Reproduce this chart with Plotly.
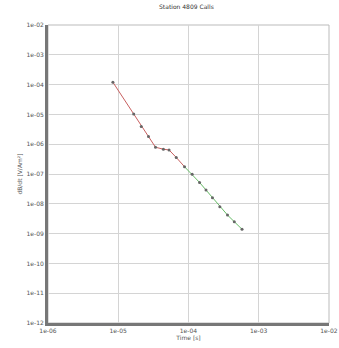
import plotly.graph_objects as go

title_text = "Station 4809 Calls"
x_label = "Time [s]"
y_label = "dB/dt [V/Am²]"

time_s = [8.4e-6, 1.66e-5, 2.13e-5, 2.7e-5, 3.4e-5, 4.4e-5, 5.3e-5, 6.7e-5,
          8.8e-5, 1.13e-4, 1.44e-4, 1.78e-4, 2.2e-4, 2.8e-4, 3.6e-4, 4.5e-4, 5.8e-4]
dbdt = [1.2e-4, 1.03e-5, 3.9e-6, 1.8e-6, 7.9e-7, 6.8e-7, 6.4e-7, 3.6e-7,
        1.75e-7, 9.8e-8, 5.2e-8, 2.9e-8, 1.6e-8, 7.9e-9, 4.2e-9, 2.5e-9, 1.4e-9]
split_index = 8

x_tickvals = [1e-6, 1e-5, 1e-4, 1e-3, 1e-2]
x_ticktext = ["1e-06", "1e-05", "1e-04", "1e-03", "1e-02"]
y_tickvals = [10.0 ** (-k) for k in range(2, 13)]
y_ticktext = ["1e-%02d" % k for k in range(2, 13)]

fig = go.Figure()
fig.add_trace(go.Scatter(x=time_s[:split_index + 1], y=dbdt[:split_index + 1], mode="lines",
                         line=dict(color="#c86060", width=1), showlegend=False))
fig.add_trace(go.Scatter(x=time_s[split_index:], y=dbdt[split_index:], mode="lines",
                         line=dict(color="#66bb66", width=1), showlegend=False))
fig.add_trace(go.Scatter(x=time_s, y=dbdt, mode="markers",
                         marker=dict(color="#666666", size=3), showlegend=False))

fig.update_layout(
    width=339, height=348,
    margin=dict(l=48, r=10, t=25, b=25),
    paper_bgcolor="white", plot_bgcolor="white",
    title=dict(text=title_text, x=0.55, xanchor="center", y=0.985, yanchor="top",
               font=dict(size=6, color="#333333", family="DejaVu Sans")),
    font=dict(family="DejaVu Sans", size=6, color="#555555"),
)
fig.update_xaxes(type="log", range=[-6, -1.998], tickvals=x_tickvals, ticktext=x_ticktext,
                 showgrid=True, gridcolor="#d4d4d4", gridwidth=1,
                 showline=True, linecolor="#777777", linewidth=3, mirror=False,
                 ticks="", tickfont=dict(size=6), automargin=False,
                 ticklabeloverflow="allow",
                 title=dict(text=x_label, font=dict(size=6), standoff=2))
fig.update_yaxes(type="log", range=[-12, -2], tickvals=y_tickvals, ticktext=y_ticktext,
                 showgrid=True, gridcolor="#d4d4d4", gridwidth=1,
                 showline=True, linecolor="#777777", linewidth=3, mirror=False,
                 ticks="", tickfont=dict(size=6),
                 title=dict(text=y_label, font=dict(size=6), standoff=4))
fig.add_shape(type="rect", xref="paper", yref="paper", x0=0, y0=0, x1=1, y1=1,
              line=dict(color="#bbbbbb", width=1), layer="below")

fig.write_html("out.html")
